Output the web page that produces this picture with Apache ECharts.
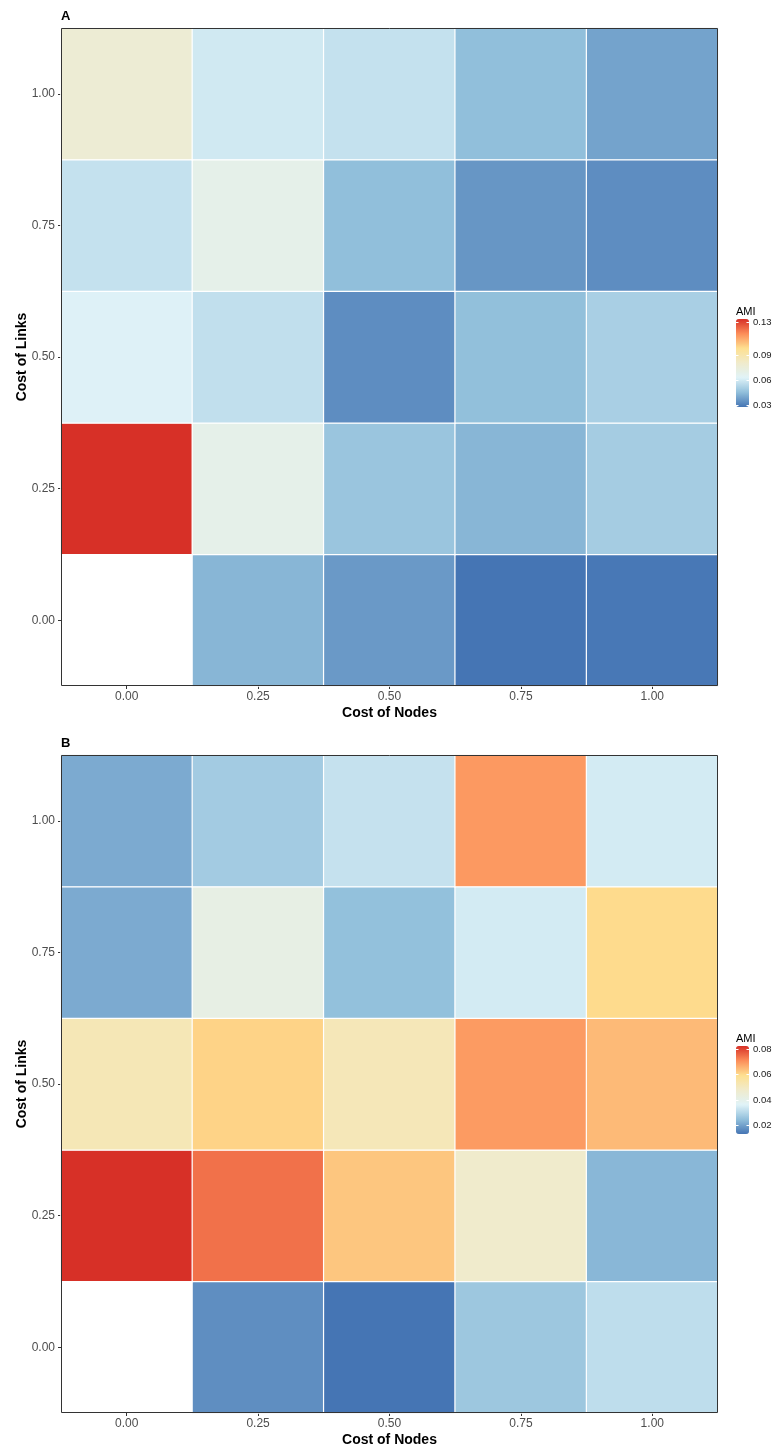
<!DOCTYPE html>
<html>
<head>
<meta charset="utf-8">
<script src="https://cdn.jsdelivr.net/npm/echarts@6/dist/echarts.min.js"></script>
<style>
html,body{margin:0;padding:0;background:#fff;}
#chart{width:778px;height:1448px;}
</style>
</head>
<body>
<div id="chart"></div>
<script>
// Categories
const nodeCosts = ['0.00', '0.25', '0.50', '0.75', '1.00'];
const linkCosts = ['0.00', '0.25', '0.50', '0.75', '1.00'];

// AMI values, rows = Cost of Links (0.00 .. 1.00), columns = Cost of Nodes (0.00 .. 1.00)
const amiA = [
  [null,   0.0432, 0.0362, 0.0276, 0.0283],   // links 0.00
  [0.1336, 0.0690, 0.0472, 0.0432, 0.0498],   // links 0.25
  [0.0624, 0.0560, 0.0334, 0.0455, 0.0506],   // links 0.50
  [0.0567, 0.0690, 0.0453, 0.0355, 0.0334],   // links 0.75
  [0.0774, 0.0594, 0.0567, 0.0453, 0.0385]    // links 1.00
];
const amiB = [
  [null,   0.0168, 0.0128, 0.0262, 0.0311],   // links 0.00
  [0.0826, 0.0745, 0.0630, 0.0477, 0.0232],   // links 0.25
  [0.0519, 0.0612, 0.0515, 0.0690, 0.0646],   // links 0.50
  [0.0212, 0.0414, 0.0248, 0.0342, 0.0600],   // links 0.75
  [0.0212, 0.0271, 0.0321, 0.0693, 0.0342]    // links 1.00
];

// Legend tick labels
const legendTicksA = [0.03, 0.06, 0.09, 0.13];
const legendTicksB = [0.02, 0.04, 0.06, 0.08];

const palette = ['#4575b4', '#91bfdb', '#e0f3f8', '#f0ebcc', '#fee090', '#fc8d59', '#d73027'];

function toCells(m) {
  const out = [];
  m.forEach((row, yi) => row.forEach((v, xi) => { if (v !== null) out.push([xi, yi, v]); }));
  return out;
}
function range(m) {
  const vals = m.flat().filter(v => v !== null);
  return [Math.min(...vals), Math.max(...vals)];
}

const FONT = '"Liberation Sans", Arial, Helvetica, sans-serif';
const gridLeft = 61, gridRight = 718, gridH = 658;
const gridTops = [28, 755];
const barLeft = 736, barW = 13, barH = 88;

const panels = [
  { label: 'A', data: amiA, ticks: legendTicksA },
  { label: 'B', data: amiB, ticks: legendTicksB }
];

const option = {
  backgroundColor: '#fff',
  animation: false,
  textStyle: { fontFamily: FONT },
  grid: [], xAxis: [], yAxis: [], series: [], visualMap: [], graphic: []
};

panels.forEach((p, i) => {
  const top = gridTops[i];
  const [mn, mx] = range(p.data);
  option.grid.push({
    left: gridLeft, top: top, width: gridRight - gridLeft, height: gridH,
    show: false, containLabel: false
  });
  option.xAxis.push({
    type: 'category', gridIndex: i, data: nodeCosts,
    name: 'Cost of Nodes', nameLocation: 'middle', nameGap: 20, nameMoveOverlap: false,
    nameTextStyle: { fontFamily: FONT, fontSize: 14, fontWeight: 'bold', color: '#000' },
    axisLine: { show: false },
    axisTick: { show: true, alignWithLabel: true, length: 3, lineStyle: { color: '#333333' } },
    axisLabel: { fontFamily: FONT, fontSize: 12, color: '#4d4d4d', margin: 5 },
    splitLine: { show: false }
  });
  option.yAxis.push({
    type: 'category', gridIndex: i, data: linkCosts,
    name: 'Cost of Links', nameLocation: 'middle', nameGap: 32, nameRotate: 90, nameMoveOverlap: false,
    nameTextStyle: { fontFamily: FONT, fontSize: 14, fontWeight: 'bold', color: '#000' },
    axisLine: { show: false },
    axisTick: { show: true, alignWithLabel: true, length: 3, lineStyle: { color: '#333333' } },
    axisLabel: { fontFamily: FONT, fontSize: 12, color: '#4d4d4d', margin: 6 },
    splitLine: { show: false }
  });
  option.series.push({
    type: 'heatmap', xAxisIndex: i, yAxisIndex: i, data: toCells(p.data),
    itemStyle: { borderColor: '#ffffff', borderWidth: 1.2 },
    emphasis: { disabled: true }, label: { show: false }
  });
  // panel border on top of cells
  option.graphic.push({
    type: 'rect', z: 100, silent: true,
    shape: { x: gridLeft + 0.5, y: top + 0.5, width: gridRight - gridLeft - 1, height: gridH - 1 },
    style: { fill: 'none', stroke: '#333333', lineWidth: 1 }
  });
  const barTop = top + gridH / 2 - 38;
  option.visualMap.push({
    type: 'continuous', seriesIndex: i, min: mn, max: mx,
    calculable: false, realtime: false, hoverLink: false,
    left: barLeft, top: barTop, itemWidth: barW, itemHeight: barH, padding: 0,
    text: null, showLabel: false,
    inRange: { color: palette }
  });
  // panel label
  option.graphic.push({
    type: 'text', left: gridLeft, top: top - 18,
    style: { text: p.label, font: 'bold 13px ' + FONT, fill: '#000' }
  });
  // legend title
  option.graphic.push({
    type: 'text', left: barLeft, top: barTop - 13,
    style: { text: 'AMI', font: '11px ' + FONT, fill: '#000' }
  });
  // legend ticks & labels
  p.ticks.forEach(t => {
    const y = Math.round(barTop + (mx - t) / (mx - mn) * barH) + 0.5;
    option.graphic.push({
      type: 'line', z: 100, shape: { x1: barLeft, y1: y, x2: barLeft + 2.5, y2: y },
      style: { stroke: '#ffffff', lineWidth: 1 }
    });
    option.graphic.push({
      type: 'line', z: 100, shape: { x1: barLeft + barW - 2.5, y1: y, x2: barLeft + barW, y2: y },
      style: { stroke: '#ffffff', lineWidth: 1 }
    });
    option.graphic.push({
      type: 'text', x: barLeft + barW + 4, y: y,
      style: { text: t.toFixed(2), font: '9.5px ' + FONT, fill: '#1a1a1a', verticalAlign: 'middle', textVerticalAlign: 'middle' }
    });
  });
});

const chart = echarts.init(document.getElementById('chart'), null, { renderer: 'canvas' });
chart.setOption(option);
</script>
</body>
</html>
